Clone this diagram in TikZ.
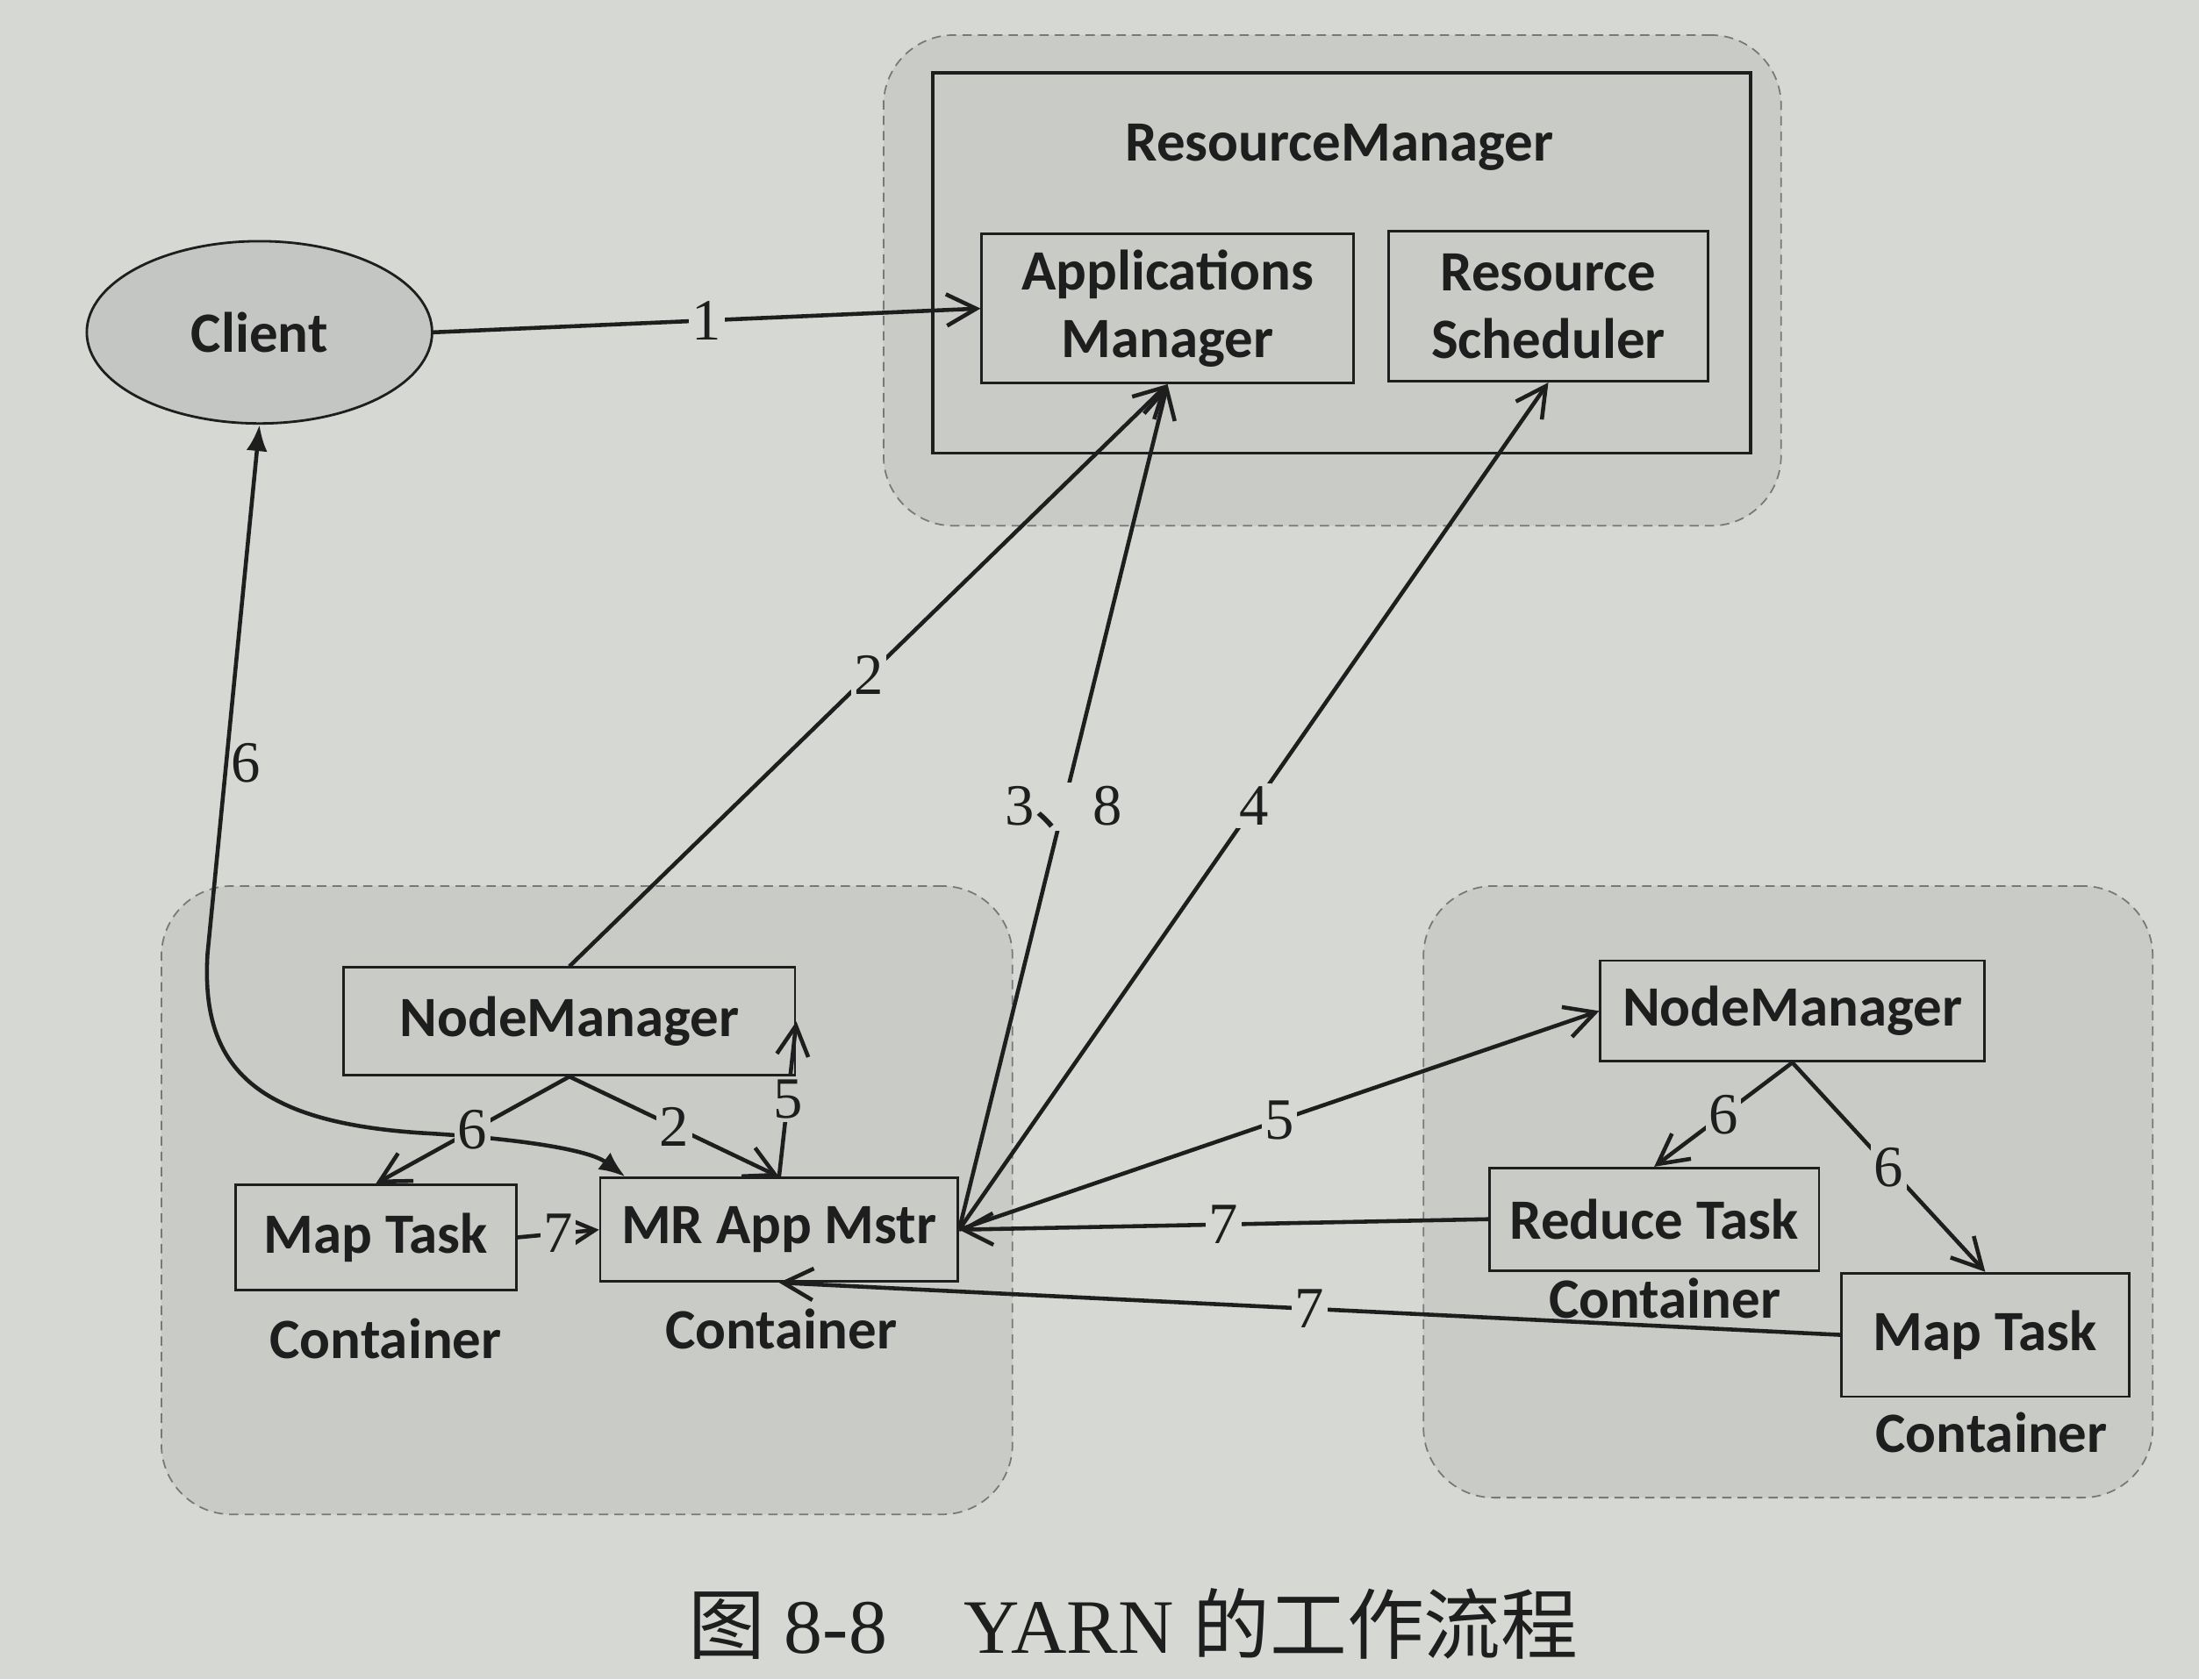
\documentclass[tikz,border=0pt]{standalone}
\usepackage{fontspec}
\usepackage{tikz}
\usetikzlibrary{arrows.meta,shapes.geometric}
\setsansfont{Carlito}
\newfontfamily\numfont{Liberation Serif}
\newfontfamily\cjk{Noto Sans CJK SC}
\definecolor{paper}{RGB}{214,216,212}
\definecolor{zone}{RGB}{201,203,199}
\definecolor{clientfill}{RGB}{196,198,195}
\definecolor{ink}{RGB}{30,30,30}

\begin{document}
\begin{tikzpicture}[scale=0.16,
	box/.style={draw=ink, line width=0.8pt, inner sep=0pt, align=center, text=ink, font=\sffamily\bfseries\fontsize{18.5}{22}\selectfont},
	zonebox/.style={draw=ink!60, densely dashed, line width=0.5pt, fill=zone, rounded corners=0.8cm, inner sep=0pt},
	tag/.style={inner sep=0pt, text=ink, font=\sffamily\bfseries\fontsize{18.5}{22}\selectfont},
	flow/.style={draw=ink, line width=1.3pt, -{Straight Barb[length=3.4mm,width=3.6mm]}},
	num/.style={inner sep=1pt, fill=paper, text=ink, font=\numfont\fontsize{19}{19}\selectfont},
	numz/.style={num, fill=zone}]
		\fill [paper] (0,0) rectangle (156.8,-119.76);
		\useasboundingbox (0,0) rectangle (156.8,-119.76);
		% dashed areas
		\node [zonebox, minimum width=10.24cm, minimum height=5.6cm] (rmzone) at (95,-20) {};
		\node [zonebox, minimum width=9.71cm, minimum height=7.17cm] (leftzone) at (41.85,-85.6) {};
		\node [zonebox, minimum width=8.32cm, minimum height=6.98cm] (rightzone) at (127.5,-85) {};
		% resource manager
		\node [box, line width=1.1pt, minimum width=9.33cm, minimum height=4.34cm] (rm) at (95.65,-18.75) {};
		\node [tag] (rmlabel) at (95.5,-10.5) {ResourceManager};
		\node [box, minimum width=4.24cm, minimum height=1.7cm] (am) at (83.25,-22) {Applications\\Manager};
		\node [box, minimum width=3.65cm, minimum height=1.71cm] (rs) at (110.4,-21.85) {Resource\\Scheduler};
		\node [box, ellipse, fill=clientfill, minimum width=3.94cm, minimum height=2.08cm] (client) at (18.5,-23.7) {Client};
		% left node
		\node [box, minimum width=5.15cm, minimum height=1.23cm] (nmL) at (40.6,-72.85) {NodeManager};
		\node [box, minimum width=3.2cm, minimum height=1.2cm] (mapL) at (26.8,-88.25) {Map Task};
		\node [tag] (contL) at (27.5,-95.5) {Container};
		\node [box, minimum width=4.08cm, minimum height=1.18cm] (mr) at (55.55,-87.7) {MR App Mstr};
		\node [tag] (contM) at (55.7,-94.8) {Container};
		% right node
		\node [box, minimum width=4.38cm, minimum height=1.15cm] (nmR) at (127.8,-72.1) {NodeManager};
		\node [box, minimum width=3.76cm, minimum height=1.17cm] (reduce) at (117.95,-86.95) {Reduce Task};
		\node [tag] (contR) at (118.7,-92.6) {Container};
		\node [box, minimum width=3.28cm, minimum height=1.41cm] (mapR) at (141.55,-95.2) {Map Task};
		\node [tag] (contRR) at (142,-102.2) {Container};
		% connectors
		\draw [flow, {Latex[length=3mm,width=2.4mm]}-{Latex[length=3mm,width=2.4mm]}] (client.south) -- node [pos=0.64, right, inner sep=1pt, text=ink, font=\numfont\fontsize{19}{19}\selectfont] {6} (14.8,-68) .. controls (14.3,-76) and (18,-80) .. (30,-80.8) .. controls (37,-81.2) and (42,-82) .. (mr.161);
		\draw [flow] (client.east) -- node [num] {1} (am.west);
		\draw [flow] (nmL.north) -- node [num] {2} (am.south);
		\draw [flow] (mr.east) -- node [num] {3{\cjk 、}8} (am.south);
		\draw [flow] (mr.east) -- node [num] {4} (rs.south);
		\draw [flow] (mr.east) -- node [num] {5} (nmR.west);
		\draw [flow] (reduce.west) -- node [num] {7} (mr.east);
		\draw [flow] (mapR.west) -- node [num] {7} (mr.south);
		\draw [flow] (nmL.south) -- node [numz] {6} (mapL.north);
		\draw [flow] (nmL.south) -- node [numz] {2} (mr.north);
		\draw [flow] (mr.north) -- node [numz] {5} (nmL.east);
		\draw [flow] (mapL.east) -- node [numz] {7} (mr.west);
		\draw [flow] (nmR.south) -- node [numz] {6} (reduce.north);
		\draw [flow] (nmR.south) -- node [numz] {6} (mapR.north);
		% caption
		\node [text=ink, font=\numfont\fontsize{25}{25}\selectfont] (caption) at (80.8,-115.8) {{\cjk 图} 8-8\quad YARN {\cjk 的工作流程}};
	\end{tikzpicture}
\end{document}
